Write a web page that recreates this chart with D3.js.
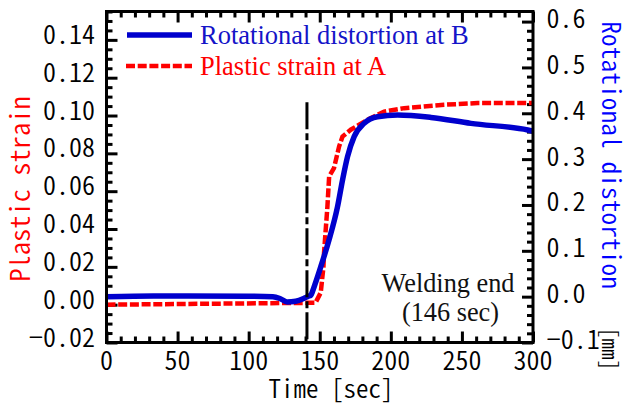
<!DOCTYPE html>
<html>
<head>
<meta charset="utf-8">
<script src="https://cdn.jsdelivr.net/npm/d3@7"></script>
<style>
  html, body { margin: 0; padding: 0; background: #fff; }
  svg { display: block; }
  .mono { font-family: 'Noto Sans CJK JP', 'DejaVu Sans Mono', monospace; font-feature-settings: "hwid" 1; font-weight: 350; }
</style>
</head>
<body>
<script>
// ---------------- data ----------------
const rotTime = [0, 33, 100, 117, 122, 127, 133, 138.7, 142, 143.7, 144.8, 147, 150.7, 156.5, 162.5, 166, 169.5, 174.2, 181.2, 190.6, 204.7, 228.2, 256.3, 296.3, 300];
const rotValue = [0.0, 0.0017, 0.001, 0.0, -0.004, -0.0114, -0.01, -0.004, 0.001, 0.003, 0.0105, 0.03, 0.065, 0.1234, 0.196, 0.254, 0.305, 0.349, 0.378, 0.3926, 0.3963, 0.391, 0.378, 0.3635, 0.361];

const strainTime = [0, 147, 150.7, 152.6, 153, 155.4, 156.6, 160, 163.6, 166, 171.8, 183.6, 195.3, 209.4, 237.4, 261, 300];
const strainValue = [0.0, 0.001, 0.0064, 0.02, 0.0273, 0.052, 0.0678, 0.0722, 0.0836, 0.0889, 0.0925, 0.0978, 0.1021, 0.1039, 0.1057, 0.1066, 0.1066];

const markerTime = [141];
const markerTop = [0.107];

const xTicks = [0, 50, 100, 150, 200, 250, 300];
const leftTicks = [-0.02, 0.00, 0.02, 0.04, 0.06, 0.08, 0.10, 0.12, 0.14];
const leftTickLabels = ["\u22120.02", "0.00", "0.02", "0.04", "0.06", "0.08", "0.10", "0.12", "0.14"];
const rightTicks = [-0.1, 0.0, 0.1, 0.2, 0.3, 0.4, 0.5, 0.6];
const rightTickLabels = ["\u22120.1", "0.0", "0.1", "0.2", "0.3", "0.4", "0.5", "0.6"];

const seriesNames = ["Rotational distortion at B", "Plastic strain at A"];
const annotation = ["Welding end", "(146 sec)"];

// ---------------- layout ----------------
const W = 627, H = 410;
const L = 106.5, R = 533, T = 11.5, B = 342.5;
const BLUE = "#0000cd", RED = "#ff0000";
const SERIF = "'Liberation Serif', 'Times New Roman', serif";

const svg = d3.select("body").append("svg").attr("width", W).attr("height", H);

const x = d3.scaleLinear().domain([0, 300]).range([L, R]);
const yL = d3.scaleLinear().domain([-0.02, 0.155]).range([B, T]);
const yR = d3.scaleLinear().domain([-0.1, 0.622]).range([B, T]);

// ---------------- ticks (inward) ----------------
function styleAxis(g) {
  g.select(".domain").remove();
  g.selectAll("line").attr("stroke", "#000").attr("stroke-width", 3);
  g.selectAll("text").remove();
}
const xMinor = d3.range(0, 301, 10).filter(v => v % 50 !== 0);
const lMinor = d3.range(-0.015, 0.1551, 0.005).map(v => +v.toFixed(3)).filter(v => Math.abs(Math.round(v / 0.02) * 0.02 - v) > 1e-6);
const rMinor = d3.range(-0.08, 0.6001, 0.02).map(v => +v.toFixed(2)).filter(v => Math.abs(Math.round(v * 10) / 10 - v) > 1e-6);

svg.append("g").attr("transform", `translate(0,${B})`).call(d3.axisBottom(x).tickValues(xTicks).tickSize(-11).tickFormat("")).call(styleAxis);
svg.append("g").attr("transform", `translate(0,${B})`).call(d3.axisBottom(x).tickValues(xMinor).tickSize(-6).tickFormat("")).call(styleAxis);
svg.append("g").attr("transform", `translate(0,${T})`).call(d3.axisTop(x).tickValues(xTicks).tickSize(-11).tickFormat("")).call(styleAxis);
svg.append("g").attr("transform", `translate(0,${T})`).call(d3.axisTop(x).tickValues(xMinor).tickSize(-6).tickFormat("")).call(styleAxis);
svg.append("g").attr("transform", `translate(${L},0)`).call(d3.axisLeft(yL).tickValues(leftTicks).tickSize(-11).tickFormat("")).call(styleAxis);
svg.append("g").attr("transform", `translate(${L},0)`).call(d3.axisLeft(yL).tickValues(lMinor).tickSize(-6).tickFormat("")).call(styleAxis);
svg.append("g").attr("transform", `translate(${R},0)`).call(d3.axisRight(yR).tickValues(rightTicks).tickSize(-11).tickFormat("")).call(styleAxis);
svg.append("g").attr("transform", `translate(${R},0)`).call(d3.axisRight(yR).tickValues(rMinor).tickSize(-6).tickFormat("")).call(styleAxis);

// ---------------- series ----------------
const rotData = rotTime.map((t, i) => [t, rotValue[i]]);
const strainData = strainTime.map((t, i) => [t, strainValue[i]]);

svg.append("path").datum(strainData)
  .attr("d", d3.line().x(d => x(d[0])).y(d => yL(d[1])))
  .attr("fill", "none").attr("stroke", RED).attr("stroke-width", 4.5)
  .attr("stroke-dasharray", "9,2.7");

svg.append("path").datum(rotData)
  .attr("d", d3.line().curve(d3.curveMonotoneX).x(d => x(d[0])).y(d => yR(d[1])))
  .attr("fill", "none").attr("stroke", BLUE).attr("stroke-width", 5.5);

// welding end marker
svg.append("line")
  .attr("x1", x(markerTime[0])).attr("x2", x(markerTime[0]))
  .attr("y1", yL(markerTop[0])).attr("y2", B)
  .attr("stroke", "#000").attr("stroke-width", 3)
  .attr("stroke-dasharray", "27,4,7,4");

// frame
svg.append("rect").attr("x", L).attr("y", T).attr("width", R - L).attr("height", B - T)
  .attr("fill", "none").attr("stroke", "#000").attr("stroke-width", 3);

// ---------------- text helpers ----------------
function monoText(str, tx, ty, anchor, opts = {}) {
  const size = opts.size || 26, rot = opts.rot || 0;
  return svg.append("text").attr("class", "mono")
    .attr("transform", `translate(${tx},${ty}) rotate(${rot})`)
    .attr("text-anchor", anchor)
    .attr("font-size", size)
    .attr("fill", opts.fill || "#000")
    .text(str);
}

// tick labels
xTicks.forEach(v => monoText(String(v), x(v), 369.5, "middle"));
leftTicks.forEach((v, i) => monoText(leftTickLabels[i], 95, yL(v) + 4, "end"));
rightTicks.forEach((v, i) => monoText(rightTickLabels[i], 546.5, yR(v) + 6.5, "start"));

// axis titles
monoText("Time [sec]", 331, 398, "middle", { size: 25 });
monoText("Plastic strain", 30, 189, "middle", { rot: -90, fill: RED, size: 26.5 });
monoText("Rotational distortion", 602, 155, "middle", { rot: 90, fill: "#0000ff", size: 25.5 });
monoText("[mm]", 602, 349, "middle", { rot: 90, size: 21.5 });

// ---------------- legend ----------------
svg.append("line").attr("x1", 127).attr("x2", 192).attr("y1", 35).attr("y2", 35)
  .attr("stroke", BLUE).attr("stroke-width", 5.5);
svg.append("line").attr("x1", 126).attr("x2", 192).attr("y1", 66).attr("y2", 66)
  .attr("stroke", RED).attr("stroke-width", 4.5).attr("stroke-dasharray", "9,2.7");
svg.append("text").attr("x", 200).attr("y", 44).attr("font-family", SERIF).attr("font-size", 26.5)
  .attr("fill", "#1414c8").text(seriesNames[0]);
svg.append("text").attr("x", 200).attr("y", 75).attr("font-family", SERIF).attr("font-size", 26.5)
  .attr("fill", RED).text(seriesNames[1]);

// annotation
svg.append("text").attr("x", 448).attr("y", 291.5).attr("text-anchor", "middle")
  .attr("font-family", SERIF).attr("font-size", 26.3).attr("fill", "#111").text(annotation[0]);
svg.append("text").attr("x", 450.5).attr("y", 320.5).attr("text-anchor", "middle")
  .attr("font-family", SERIF).attr("font-size", 26.3).attr("fill", "#111").text(annotation[1]);
</script>
</body>
</html>
